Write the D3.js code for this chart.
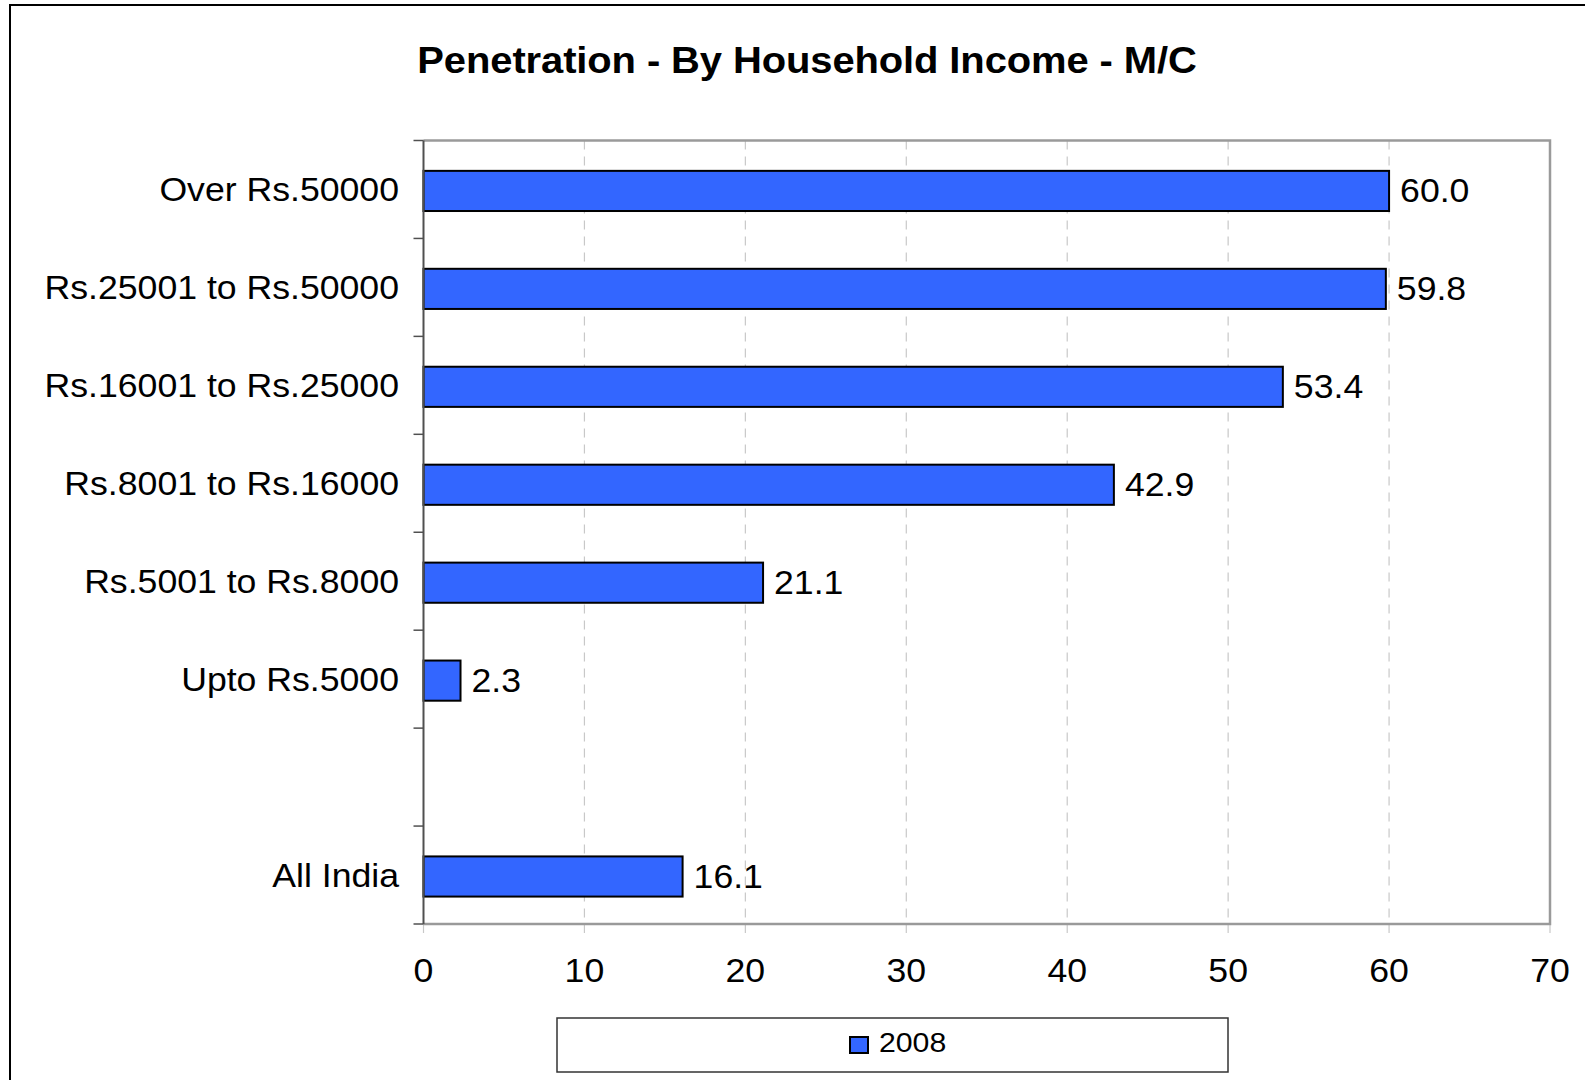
<!DOCTYPE html>
<html>
<head>
<meta charset="utf-8">
<script src="https://cdn.jsdelivr.net/npm/d3@7"></script>
<style>
  body { margin: 0; background: #fff; }
  svg { display: block; font-family: "Liberation Sans", Arial, sans-serif; }
</style>
</head>
<body>
<script>
// chart data
var categories = ['Over Rs.50000', 'Rs.25001 to Rs.50000', 'Rs.16001 to Rs.25000',
                  'Rs.8001 to Rs.16000', 'Rs.5001 to Rs.8000', 'Upto Rs.5000', '', 'All India'];
var values2008 = [60.0, 59.8, 53.4, 42.9, 21.1, 2.3, null, 16.1];
var xTicks = [0, 10, 20, 30, 40, 50, 60, 70];
var seriesName = '2008';
var title = 'Penetration - By Household Income - M/C';

var width = 1585, height = 1080;
var margin = {left: 423.5, right: 1550, top: 140.5, bottom: 924};
var sx = 1.08; // the original text is slightly wide

var svg = d3.select('body').append('svg')
    .attr('width', width)
    .attr('height', height);

// outer frame (only top and left show)
svg.append('rect')
    .attr('x', 10).attr('y', 5)
    .attr('width', 1700).attr('height', 1200)
    .attr('fill', 'none')
    .attr('stroke', '#000')
    .attr('stroke-width', 2);

function wideText(sel, x, y) {
    return sel.append('text')
        .attr('transform', 'translate(' + x + ',' + y + ') scale(' + sx + ',1)');
}

// title
wideText(svg, 807, 73)
    .attr('text-anchor', 'middle')
    .attr('font-size', 37)
    .attr('font-weight', 'bold')
    .attr('letter-spacing', -0.1)
    .text(title);

var x = d3.scaleLinear()
    .domain([0, 70])
    .range([margin.left, margin.right]);

var y = d3.scaleBand()
    .domain(categories)
    .range([margin.top, margin.bottom])
    .padding(0);

var bw = y.bandwidth();

// dashed grid
svg.append('g')
    .selectAll('line')
    .data(xTicks.slice(1, -1))
    .enter().append('line')
    .attr('x1', function(d){ return x(d); })
    .attr('x2', function(d){ return x(d); })
    .attr('y1', margin.top)
    .attr('y2', margin.bottom)
    .attr('stroke', '#c8c8c8')
    .attr('stroke-width', 1.2)
    .attr('stroke-dasharray', '9,7');

// x axis
var xAxis = svg.append('g')
    .attr('transform', 'translate(0,' + margin.bottom + ')')
    .call(d3.axisBottom(x).tickValues(xTicks).tickSize(9).tickPadding(22));
xAxis.select('.domain').remove();
xAxis.selectAll('.tick line').attr('stroke', '#c8c8c8').attr('stroke-width', 1.2);
xAxis.selectAll('.tick text')
    .attr('font-size', 33)
    .attr('font-family', '"Liberation Sans", Arial, sans-serif')
    .attr('fill', '#000')
    .attr('dy', null)
    .attr('y', 58)
    .attr('transform', 'scale(' + sx + ',1)')
    .attr('x', 0);
xAxis.selectAll('.tick')
    .attr('transform', function(d){ return 'translate(' + x(d) + ',0)'; });

// plot frame: top, right, bottom in grey
svg.append('path')
    .attr('d', 'M' + margin.left + ',' + margin.top + 'H' + margin.right + 'V' + margin.bottom + 'H' + margin.left)
    .attr('fill', 'none')
    .attr('stroke', '#9a9a9a')
    .attr('stroke-width', 2.5);

// bars
svg.append('g')
    .selectAll('rect')
    .data(categories.map(function(c, i){ return {cat: c, v: values2008[i]}; })
        .filter(function(d){ return d.v !== null; }))
    .enter().append('rect')
    .attr('x', x(0))
    .attr('y', function(d){ return y(d.cat) + bw * 0.31; })
    .attr('width', function(d){ return x(d.v) - x(0); })
    .attr('height', bw * 0.41)
    .attr('fill', '#3366ff')
    .attr('stroke', '#000')
    .attr('stroke-width', 2);

// value labels
var vals = svg.append('g');
categories.forEach(function(c, i){
    if (values2008[i] === null) return;
    wideText(vals, x(values2008[i]) + 11, y(c) + bw / 2 + 13)
        .attr('font-size', 33)
        .text(d3.format('.1f')(values2008[i]));
});

// y axis: line and boundary ticks
var yg = svg.append('g');
yg.append('line')
    .attr('x1', margin.left).attr('x2', margin.left)
    .attr('y1', margin.top).attr('y2', margin.bottom)
    .attr('stroke', '#505050')
    .attr('stroke-width', 2);
yg.selectAll('line.tk')
    .data(categories.map(function(c){ return y(c); }).concat([margin.bottom]))
    .enter().append('line')
    .attr('class', 'tk')
    .attr('x1', margin.left - 10).attr('x2', margin.left)
    .attr('y1', function(d){ return d; })
    .attr('y2', function(d){ return d; })
    .attr('stroke', '#505050')
    .attr('stroke-width', 1.5);

categories.forEach(function(c){
    if (!c) return;
    wideText(yg, 399, y(c) + bw / 2 + 12)
        .attr('text-anchor', 'end')
        .attr('font-size', 33)
        .text(c);
});

// legend
var lg = svg.append('g');
lg.append('rect')
    .attr('x', 557).attr('y', 1018)
    .attr('width', 671).attr('height', 54)
    .attr('fill', '#fff')
    .attr('stroke', '#333')
    .attr('stroke-width', 1.5);
lg.append('rect')
    .attr('x', 850).attr('y', 1037)
    .attr('width', 18).attr('height', 16)
    .attr('fill', '#3366ff')
    .attr('stroke', '#000')
    .attr('stroke-width', 2);
wideText(lg, 879, 1052)
    .attr('font-size', 28)
    .text(seriesName);
</script>
</body>
</html>
